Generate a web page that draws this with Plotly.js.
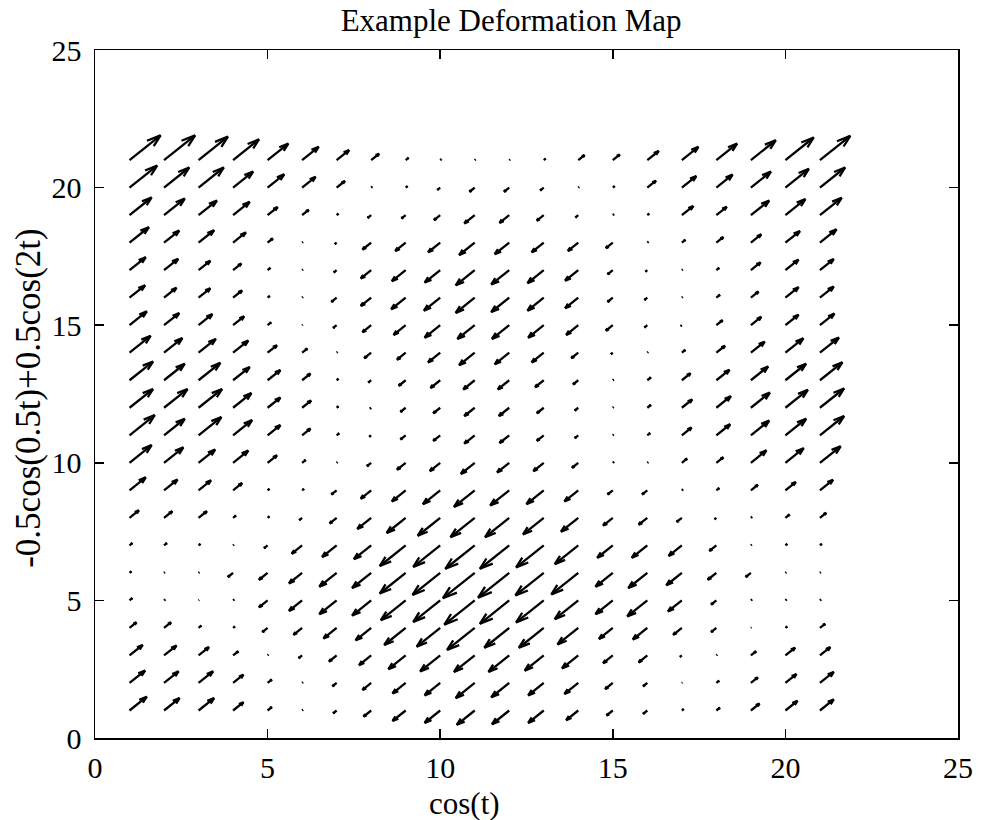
<!DOCTYPE html>
<html>
<head>
<meta charset="utf-8">
<script src="https://cdn.plot.ly/plotly-3.0.1.min.js"></script>
<style>html,body{margin:0;padding:0;background:#fff;}#chart{width:981px;height:820px;}</style>
</head>
<body>
<div id="chart"></div>
<script>
// Grid positions (cos(t) axis and y axis)
const xGrid = [1,2,3,4,5,6,7,8,9,10,11,12,13,14,15,16,17,18,19,20,21];
const yGrid = [21,20,19,18,17,16,15,14,13,12,11,10,9,8,7,6,5,4,3,2,1];

// Signed deformation magnitude per grid point (u = v = value), one array per row (top row first)
const magY21 = [0.9,0.9,0.85,0.75,0.6,0.48,0.36,0.23,0.08,0.03,0.02,0.02,0.05,0.18,0.2,0.33,0.48,0.6,0.72,0.82,0.88];
const magY20 = [0.8,0.73,0.73,0.58,0.48,0.39,0.24,0.03,0.05,-0.08,-0.15,-0.15,-0.1,0.02,0.05,0.25,0.42,0.47,0.58,0.68,0.73];
const magY19 = [0.64,0.6,0.53,0.48,0.29,0.19,0.05,-0.1,-0.12,-0.18,-0.3,-0.28,-0.2,-0.08,0.03,0.05,0.33,0.3,0.53,0.58,0.63];
const magY18 = [0.56,0.44,0.45,0.37,0.15,0.02,-0.05,-0.25,-0.3,-0.35,-0.45,-0.42,-0.35,-0.3,-0.2,0.03,0.1,0.2,0.3,0.42,0.48];
const magY17 = [0.47,0.41,0.34,0.24,0.08,0.02,-0.08,-0.3,-0.4,-0.45,-0.55,-0.52,-0.47,-0.38,-0.15,-0.05,0.02,0.08,0.28,0.38,0.4];
const magY16 = [0.45,0.36,0.34,0.26,0.06,0.02,-0.15,-0.3,-0.42,-0.47,-0.55,-0.52,-0.47,-0.38,-0.15,-0.08,0.02,0.1,0.22,0.38,0.4];
const magY15 = [0.5,0.44,0.4,0.32,0.1,0.01,-0.1,-0.25,-0.35,-0.45,-0.5,-0.5,-0.45,-0.35,-0.2,-0.08,-0.03,0.18,0.3,0.38,0.42];
const magY14 = [0.61,0.53,0.5,0.44,0.27,0.15,0.02,-0.2,-0.25,-0.35,-0.45,-0.42,-0.35,-0.2,-0.05,0.02,0.1,0.25,0.4,0.52,0.55];
const magY13 = [0.68,0.6,0.63,0.48,0.37,0.24,0.05,-0.08,-0.2,-0.28,-0.33,-0.33,-0.25,-0.15,0.02,0.1,0.25,0.38,0.5,0.6,0.65];
const magY12 = [0.68,0.68,0.68,0.53,0.37,0.26,0.05,-0.03,-0.15,-0.2,-0.3,-0.3,-0.2,-0.1,0.02,0.1,0.3,0.42,0.55,0.65,0.7];
const magY11 = [0.73,0.6,0.66,0.55,0.37,0.24,0.07,-0.05,-0.15,-0.2,-0.3,-0.28,-0.2,-0.1,0.02,0.08,0.28,0.4,0.53,0.6,0.7];
const magY10 = [0.64,0.56,0.48,0.44,0.27,0.1,0.02,-0.12,-0.25,-0.3,-0.4,-0.35,-0.3,-0.18,0.03,0.02,0.15,0.2,0.45,0.53,0.6];
const magY9  = [0.47,0.39,0.36,0.26,0.05,0.05,-0.15,-0.3,-0.4,-0.5,-0.6,-0.55,-0.5,-0.4,-0.15,-0.15,0.03,0.08,0.2,0.3,0.38];
const magY8  = [0.27,0.24,0.24,0.08,0.05,-0.08,-0.2,-0.4,-0.55,-0.65,-0.7,-0.7,-0.6,-0.5,-0.28,-0.25,-0.15,-0.05,0.03,0.12,0.18];
const magY7  = [0.08,0.08,0.05,0.02,-0.1,-0.3,-0.42,-0.5,-0.75,-0.78,-0.85,-0.85,-0.8,-0.68,-0.45,-0.45,-0.38,-0.2,0.02,0.05,0.05];
const magY6  = [0.05,0.02,0.02,-0.15,-0.25,-0.38,-0.5,-0.55,-0.75,-0.8,-0.92,-0.9,-0.82,-0.78,-0.5,-0.55,-0.45,-0.25,-0.15,0.02,0.02];
const magY5  = [0.08,0.03,0.01,0.03,-0.25,-0.38,-0.5,-0.55,-0.72,-0.78,-0.88,-0.85,-0.8,-0.68,-0.5,-0.58,-0.4,-0.15,0.03,0.03,0.03];
const magY4  = [0.2,0.2,0.08,0.05,-0.15,-0.25,-0.38,-0.45,-0.62,-0.68,-0.8,-0.72,-0.72,-0.6,-0.4,-0.42,-0.25,-0.15,0.01,0.05,0.15];
const magY3  = [0.38,0.36,0.3,0.15,0.02,-0.1,-0.22,-0.35,-0.5,-0.58,-0.6,-0.6,-0.55,-0.47,-0.28,-0.25,-0.05,0.02,0.15,0.28,0.3];
const magY2  = [0.45,0.42,0.42,0.3,0.12,0.02,-0.12,-0.25,-0.38,-0.45,-0.55,-0.52,-0.45,-0.4,-0.22,-0.12,0.01,0.08,0.2,0.32,0.4];
const magY1  = [0.5,0.45,0.45,0.3,0.12,0.02,-0.1,-0.22,-0.38,-0.45,-0.52,-0.5,-0.45,-0.35,-0.18,-0.12,0.05,0.1,0.25,0.35,0.4];

const magRows = [magY21,magY20,magY19,magY18,magY17,magY16,magY15,magY14,magY13,magY12,magY11,
                 magY10,magY9,magY8,magY7,magY6,magY5,magY4,magY3,magY2,magY1];

const tickVals = [0,5,10,15,20,25];
const titleText = 'Example Deformation Map';
const xTitle = 'cos(t)';
const yTitle = '-0.5cos(0.5t)+0.5cos(2t)';

// Build quiver arrows (MATLAB-style head: alpha = beta = 0.33)
const alpha = 0.33, beta = 0.33;
const xs = [], ys = [];
yGrid.forEach((yv, r) => {
  xGrid.forEach((xv, c) => {
    const u = magRows[r][c], v = magRows[r][c];
    const tx = xv + u, ty = yv + v;
    xs.push(xv, tx, null);
    ys.push(yv, ty, null);
    xs.push(tx - alpha * (u + beta * v), tx, tx - alpha * (u - beta * v), null);
    ys.push(ty - alpha * (v - beta * u), ty, ty - alpha * (v + beta * u), null);
  });
});

const trace = {
  type: 'scatter', mode: 'lines', x: xs, y: ys,
  line: {color: '#000', width: 2.3}, hoverinfo: 'skip', connectgaps: false
};

const serif = 'Liberation Serif, Times New Roman, serif';
const axisCommon = {
  range: [0, 25], tickvals: tickVals, ticktext: tickVals.map(String),
  showgrid: false, zeroline: false, showline: true, linecolor: '#000', linewidth: 1.5,
  mirror: 'allticks', ticks: 'inside', ticklen: 9, tickwidth: 1.5, tickcolor: '#000',
  tickfont: {family: serif, size: 30, color: '#000'}
};

const layout = {
  width: 981, height: 820,
  paper_bgcolor: '#fff', plot_bgcolor: '#fff',
  margin: {l: 95, r: 23, t: 50, b: 82},
  showlegend: false,
  title: {text: titleText, font: {family: serif, size: 31, color: '#000'},
          x: 0.521, xref: 'container', xanchor: 'center', y: 0.976, yref: 'container', yanchor: 'middle'},
  xaxis: Object.assign({}, axisCommon, {ticklabelstandoff: 2}),
  yaxis: Object.assign({}, axisCommon, {ticklabelstandoff: 6}),
  annotations: [
    {text: xTitle, xref: 'paper', yref: 'paper', x: 0.4287, y: -0.095, xanchor: 'center', yanchor: 'middle',
     showarrow: false, font: {family: serif, size: 31, color: '#000'}},
    {text: yTitle, xref: 'paper', yref: 'paper', x: -0.078, y: 0.494, xanchor: 'center', yanchor: 'middle',
     textangle: -90, showarrow: false, font: {family: serif, size: 35, color: '#000'}}
  ]
};

Plotly.newPlot('chart', [trace], layout, {staticPlot: true, displayModeBar: false});
</script>
</body>
</html>
